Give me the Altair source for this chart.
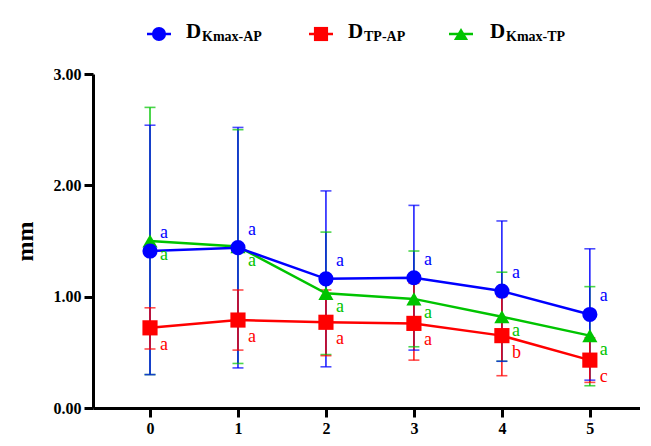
import altair as alt
import pandas as pd

time = [0, 1, 2, 3, 4, 5]
series = ["DKmax-AP", "DTP-AP", "DKmax-TP"]
subs = ["Kmax-AP", "TP-AP", "Kmax-TP"]
colors = ["#0000FF", "#FF0000", "#00C400"]
shapes = ["circle", "square", "triangle-up"]

kap_mean = [1.41, 1.44, 1.16, 1.17, 1.05, 0.84]
kap_lo = [0.30, 0.36, 0.37, 0.52, 0.42, 0.25]
kap_hi = [2.54, 2.52, 1.95, 1.82, 1.68, 1.43]
kap_let = ["a", "a", "a", "a", "a", "a"]

tpap_mean = [0.72, 0.79, 0.77, 0.76, 0.65, 0.43]
tpap_lo = [0.53, 0.52, 0.47, 0.43, 0.29, 0.23]
tpap_hi = [0.90, 1.06, 1.06, 1.12, 1.00, 0.63]
tpap_let = ["a", "a", "a", "a", "b", "c"]

ktp_mean = [1.50, 1.45, 1.03, 0.98, 0.82, 0.65]
ktp_lo = [0.30, 0.40, 0.48, 0.55, 0.42, 0.20]
ktp_hi = [2.70, 2.50, 1.58, 1.41, 1.22, 1.09]
ktp_let = ["a", "a", "a", "a", "a", "a"]

rows = []
for s, m, lo, hi, lt in [
    ("DKmax-TP", ktp_mean, ktp_lo, ktp_hi, ktp_let),
    ("DKmax-AP", kap_mean, kap_lo, kap_hi, kap_let),
    ("DTP-AP", tpap_mean, tpap_lo, tpap_hi, tpap_let),
]:
    for t, a, b, c, l in zip(time, m, lo, hi, lt):
        rows.append({"series": s, "time": t, "mean": a, "lo": b, "hi": c, "letter": l})
df = pd.DataFrame(rows)

FONT = "Liberation Serif"
xs = alt.Scale(domain=[-0.648, 5.57], nice=False, zero=False)
ys = alt.Scale(domain=[0, 3], nice=False)
cs = alt.Scale(domain=series, range=colors)
ss = alt.Scale(domain=series, range=shapes)

X = alt.X("time:Q", scale=xs, axis=alt.Axis(values=time, format="d", title=None))
Y = alt.Y("mean:Q", scale=ys, axis=alt.Axis(values=[0, 1, 2, 3], format=".2f", title="mm"))
C = alt.Color("series:N", scale=cs, legend=None)

base = alt.Chart(df)

rules = base.mark_rule(strokeWidth=1.4).encode(
    x=X, y=alt.Y("lo:Q", scale=ys), y2="hi:Q", color=C)
cap_lo = base.mark_tick(orient="horizontal", size=11, thickness=1.6).encode(
    x=X, y=alt.Y("lo:Q", scale=ys), color=C)
cap_hi = base.mark_tick(orient="horizontal", size=11, thickness=1.6).encode(
    x=X, y=alt.Y("hi:Q", scale=ys), color=C)
lines = base.mark_line(strokeWidth=2.5).encode(x=X, y=Y, color=C, detail="series:N")
points = base.mark_point(filled=True, opacity=1, size=230).encode(
    x=X, y=Y, color=C, shape=alt.Shape("series:N", scale=ss, legend=None))

dys = {"DKmax-AP": -18, "DTP-AP": 17, "DKmax-TP": 14}
texts = []
for s in series:
    texts.append(
        base.transform_filter(alt.datum.series == s)
        .mark_text(align="left", baseline="middle", dx=10, dy=dys[s], font=FONT, fontSize=18)
        .encode(x=X, y=Y, text="letter:N", color=C)
    )

# custom legend above the plot
one = pd.DataFrame({"k": [0]})
leg = []
sym_x = [66, 228, 368]
d_x = [93, 255, 397]
for i, s in enumerate(series):
    lc = alt.Chart(one)
    leg.append(lc.mark_rule(color=colors[i], strokeWidth=2.5).encode(
        x=alt.value(sym_x[i] - 12), x2=alt.value(sym_x[i] + 12), y=alt.value(-40)))
    leg.append(lc.mark_point(filled=True, opacity=1, size=200, shape=shapes[i], color=colors[i]).encode(
        x=alt.value(sym_x[i]), y=alt.value(-40)))
    leg.append(lc.mark_text(text="D", align="left", baseline="alphabetic", font=FONT,
                            fontSize=21, fontWeight="bold", color="black").encode(
        x=alt.value(d_x[i]), y=alt.value(-36)))
    leg.append(lc.mark_text(text=subs[i], align="left", baseline="alphabetic", font=FONT,
                            fontSize=14, fontWeight="bold", color="black").encode(
        x=alt.value(d_x[i] + 16), y=alt.value(-33)))

chart = alt.layer(rules, cap_lo, cap_hi, lines, points, *texts, *leg).properties(
    width=547, height=334,
    autosize=alt.AutoSizeParams(type="none"),
    padding={"left": 85, "top": 66, "right": 0, "bottom": 28},
).configure_view(stroke=None).configure_axis(
    grid=False, domainColor="black", domainWidth=3, tickColor="black", tickWidth=3,
    tickSize=9, labelFont=FONT, labelFontSize=16, labelFontWeight="bold", labelColor="black",
    titleFont=FONT, titleFontSize=24, titleFontWeight="bold", titleColor="black",
    labelPadding=3,
).configure_axisY(titlePadding=16)

chart.save("out.html", embed_options={"renderer": "svg", "actions": False})
